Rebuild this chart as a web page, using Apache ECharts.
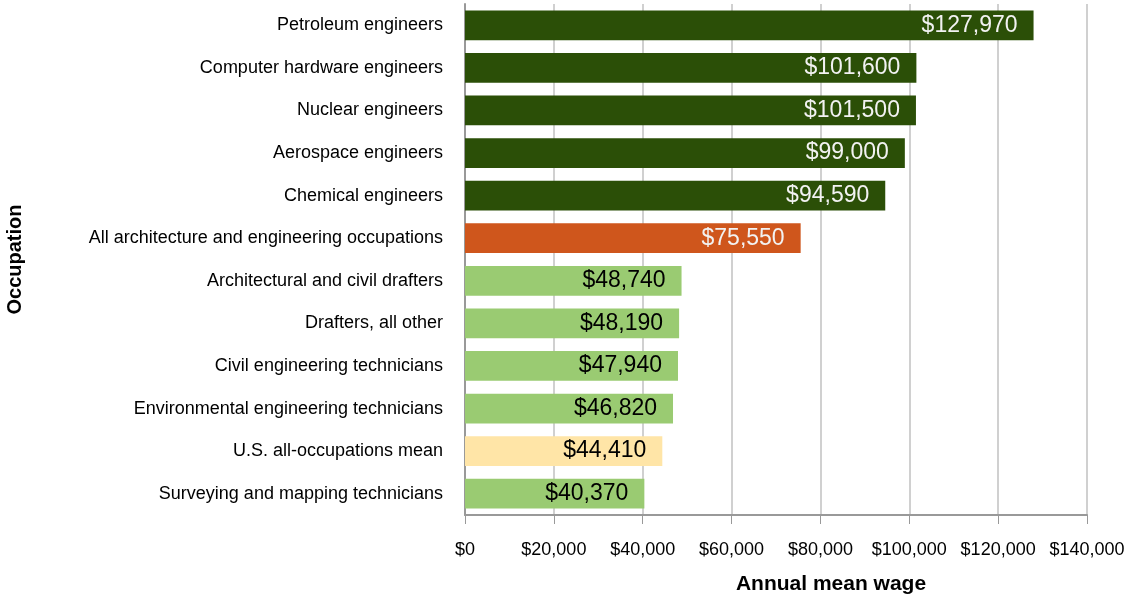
<!DOCTYPE html>
<html>
<head>
<meta charset="utf-8">
<script src="https://cdn.jsdelivr.net/npm/echarts@6/dist/echarts.min.js"></script>
<style>
  html, body { margin: 0; padding: 0; background: #fff; }
  #chart { width: 1134px; height: 596px; }
</style>
</head>
<body>
<div id="chart"></div>
<script>
var occupations = [
  "Petroleum engineers",
  "Computer hardware engineers",
  "Nuclear engineers",
  "Aerospace engineers",
  "Chemical engineers",
  "All architecture and engineering occupations",
  "Architectural and civil drafters",
  "Drafters, all other",
  "Civil engineering technicians",
  "Environmental engineering technicians",
  "U.S. all-occupations mean",
  "Surveying and mapping technicians"
];
var wages = [127970, 101600, 101500, 99000, 94590, 75550, 48740, 48190, 47940, 46820, 44410, 40370];
// bar group: 0 = top paying, 1 = all arch/eng, 2 = technicians/drafters, 3 = US mean
var groups = [0, 0, 0, 0, 0, 1, 2, 2, 2, 2, 3, 2];

var groupColor = ["#2b4f07", "#cf561c", "#9acb72", "#ffe5a7"];
var groupLabel = ["#f2f2f2", "#f2f2f2", "#000", "#000"];
var font = "'Liberation Sans Narrow', 'Arial Narrow', 'Liberation Sans', sans-serif";

function money(v) {
  return "$" + v.toString().replace(/\B(?=(\d{3})+(?!\d))/g, ",");
}

var chart = echarts.init(document.getElementById("chart"));

var barData = wages.map(function (v, i) {
  return {
    value: v,
    itemStyle: { color: groupColor[groups[i]] },
    label: { color: groupLabel[groups[i]] }
  };
});

chart.setOption({
  backgroundColor: "#fff",
  textStyle: { fontFamily: font },
  grid: {
    left: 465,
    right: 47,
    top: 4,
    bottom: 81,
    outerBoundsMode: "none"
  },
  xAxis: {
    type: "value",
    min: 0,
    max: 140000,
    interval: 20000,
    name: "Annual mean wage",
    nameLocation: "middle",
    nameGap: 59,
    nameTextStyle: {
      fontFamily: font,
      fontSize: 21,
      fontWeight: "bold",
      color: "#000",
      padding: [0, 0, 0, 110]
    },
    axisLine: { show: true, lineStyle: { color: "#999", width: 2 } },
    axisTick: { show: true, length: 9, lineStyle: { color: "#999" } },
    axisLabel: {
      margin: 26,
      fontSize: 18,
      color: "#000",
      formatter: money
    },
    splitLine: { show: true, lineStyle: { color: "#c0c0c0", width: 1.5 } }
  },
  yAxis: {
    type: "category",
    inverse: true,
    data: occupations,
    name: "Occupation",
    nameLocation: "middle",
    nameGap: 440,
    nameRotate: 90,
    nameTextStyle: {
      fontFamily: font,
      fontSize: 20,
      fontWeight: "bold",
      color: "#000"
    },
    axisLine: { show: true, lineStyle: { color: "#999", width: 2 } },
    axisTick: { show: false },
    axisLabel: {
      margin: 22,
      fontSize: 18,
      color: "#000"
    }
  },
  series: [
    {
      type: "bar",
      data: barData,
      barCategoryGap: "30%",
      label: {
        show: true,
        position: "insideRight",
        distance: 16,
        fontSize: 23,
        formatter: function (p) { return money(p.value); }
      }
    }
  ]
});
</script>
</body>
</html>
